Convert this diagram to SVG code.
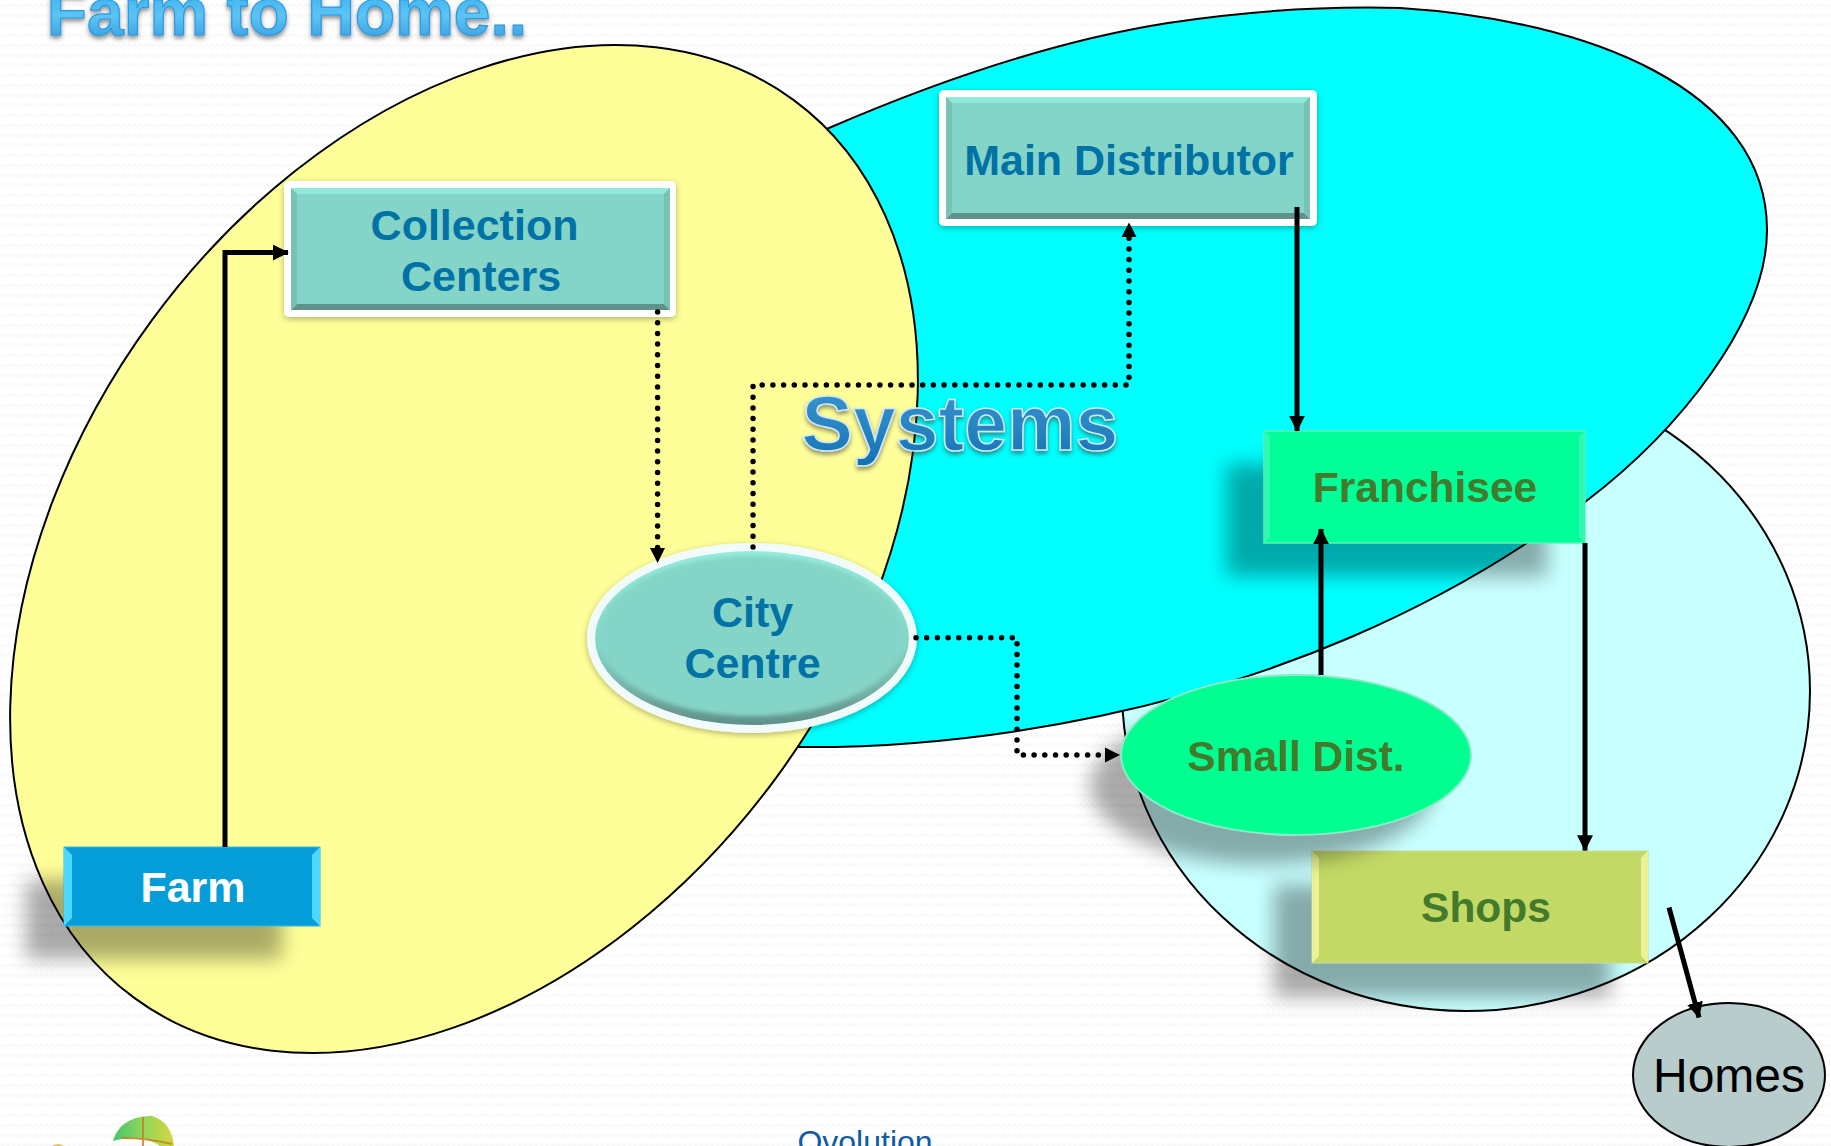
<svg xmlns="http://www.w3.org/2000/svg" width="1831" height="1146" viewBox="0 0 1831 1146">
<style>
text{font-family:"Liberation Sans",Arial,sans-serif;font-weight:700;text-anchor:middle}
.blob{stroke:#000;stroke-width:2}
.teal{fill:#0072a6;font-size:43px}
.green{fill:#437a2b;font-size:42.500px}
.wire{fill:none;stroke:#000;stroke-width:5}
.dot{fill:none;stroke:#000;stroke-width:5.500;stroke-linecap:round;stroke-dasharray:0 10.7}
.shadow{fill:#000;opacity:.33;filter:url(#blur)}
.hi{fill:#8fead9}.lo{fill:#5f9288}.sd{fill:#78c2b5}
</style>
<defs>
<pattern id="bg" width="11" height="10" patternUnits="userSpaceOnUse"><rect width="11" height="10" fill="#fff"/><path d="M0 7L2.750 4L5.500 7L8.250 4L11 7" fill="none" stroke="#f8f8f8" stroke-width="1.500"/></pattern>
<filter id="blur" x="-20%" y="-40%" width="140%" height="180%"><feGaussianBlur stdDeviation="10"/></filter>
<filter id="soft" x="-5%" y="-5%" width="110%" height="110%"><feGaussianBlur stdDeviation="2"/></filter>
<filter id="glow" x="-10%" y="-15%" width="120%" height="130%"><feDropShadow dx="0" dy="2" stdDeviation="3" flood-color="#000" flood-opacity=".3"/></filter>
<filter id="tshadow" x="-5%" y="-15%" width="110%" height="135%"><feDropShadow dx="0" dy="3" stdDeviation="2" flood-color="#3a3a3a" flood-opacity=".55"/></filter>
<linearGradient id="tg1" x1="0" y1="0" x2="0" y2="1"><stop offset="0" stop-color="#2aa4ec"/><stop offset=".55" stop-color="#5cc4f4"/><stop offset="1" stop-color="#2f93dc"/></linearGradient>
<linearGradient id="tg2" x1="0" y1="0" x2="0" y2="1"><stop offset="0" stop-color="#3c96d0"/><stop offset=".5" stop-color="#2a86c4"/><stop offset="1" stop-color="#1570b4"/></linearGradient>
<linearGradient id="ell" x1="0" y1="0" x2="0" y2="1"><stop offset="0" stop-color="#93ecdc"/><stop offset=".55" stop-color="#84d5c7"/><stop offset=".85" stop-color="#6fa99e"/><stop offset="1" stop-color="#5f8f88"/></linearGradient>
<linearGradient id="leaf" x1="0" y1="0" x2="1" y2="0"><stop offset="0" stop-color="#46c46c"/><stop offset=".5" stop-color="#8fd65a"/><stop offset="1" stop-color="#d8d640"/></linearGradient>
<marker id="a" viewBox="0 0 10 10" refX="9.500" refY="5" markerUnits="userSpaceOnUse" markerWidth="16" markerHeight="16" orient="auto"><path d="M0 0L10 5L0 10Z"/></marker>
</defs>
<rect id="background" width="1831" height="1146" fill="url(#bg)"/>
<g id="zone-retail"><ellipse class="blob" cx="1466" cy="691" rx="344" ry="320" fill="#c8ffff"/></g>
<g id="zone-distribution"><path class="blob" fill="#00ffff" d="M1400 8C1590 20 1767 90 1767 230C1767 320 1680 430 1585 502C1440 612 1270 680 1100 716C1000 737 900 748 797 747C740 747 700 600 700 450C700 300 740 170 829 128C940 80 1060 40 1168 23C1240 12 1320 6 1400 8Z"/></g>
<g id="zone-farm"><ellipse class="blob" cx="464" cy="549" rx="557" ry="387" transform="rotate(-53.7 464 549)" fill="#ffff99"/></g>

<g id="title"><text x="287" y="35" font-size="66" fill="url(#tg1)" stroke="#2b9be0" stroke-width="1.200" filter="url(#tshadow)">Farm to Home..</text></g>

<g id="node-collection-centers" filter="url(#glow)">
<rect x="287" y="184" width="386" height="130" rx="2" fill="#fff" stroke="#fff" stroke-width="6"/>
<rect x="291" y="188" width="379" height="122" fill="#84d5c7"/>
<path class="hi" d="M291 188H670L664 194H297Z"/><path class="lo" d="M291 310H670L664 304H297Z"/><path class="sd" d="M291 188L297 194V304L291 310Z"/><path class="sd" d="M670 188L664 194V304L670 310Z"/>
</g>
<text class="teal" x="474.500" y="240">Collection</text><text class="teal" x="481" y="291">Centers</text>

<g id="node-main-distributor" filter="url(#glow)">
<rect x="942" y="93" width="372" height="130" rx="2" fill="#fff" stroke="#fff" stroke-width="6"/>
<rect x="946" y="97" width="364" height="122" fill="#84d5c7"/>
<path class="hi" d="M946 97H1310L1304 103H952Z"/><path class="lo" d="M946 219H1310L1304 213H952Z"/><path class="sd" d="M946 97L952 103V213L946 219Z"/><path class="sd" d="M1310 97L1304 103V213L1310 219Z"/>
</g>
<text class="teal" x="1129" y="175">Main Distributor</text>

<g id="node-farm">
<rect class="shadow" x="26" y="880" width="256" height="79"/>
<rect x="64" y="847" width="256" height="79" fill="#059dd8" stroke="#36b8e6" stroke-width="1"/>
<path fill="#4dd9ff" d="M64 847L72 855V918L64 926Z"/><path fill="#4dd9ff" d="M320 847L312 855V918L320 926Z"/>
<text x="193" y="902" font-size="43" fill="#fff">Farm</text>
</g>

<g id="node-franchisee">
<rect class="shadow" x="1226" y="464" width="321" height="112"/>
<rect x="1264" y="431" width="321" height="112" fill="#00ff99" stroke="#5cf2bb" stroke-width="1.500"/>
<path fill="#33f8ad" d="M1264 431L1270 437V537L1264 543Z"/><path fill="#33f8ad" d="M1585 431L1579 437V537L1585 543Z"/>
<text class="green" x="1425" y="502">Franchisee</text>
</g>

<g id="node-shops">
<rect class="shadow" x="1274" y="885" width="336" height="112"/>
<rect x="1312" y="851" width="336" height="112" fill="#c2d965" stroke="#cfd9a0" stroke-width="1"/>
<path fill="#ecf294" d="M1312 851L1319 858V956L1312 963Z"/><path fill="#ecf294" d="M1648 851L1641 858V956L1648 963Z"/>
<text class="green" x="1486" y="922">Shops</text>
</g>

<g id="node-small-dist">
<ellipse class="shadow" cx="1262" cy="786" rx="172" ry="78"/>
<ellipse cx="1296" cy="755" rx="175" ry="80" fill="#00ff90" stroke="#8ee8cc" stroke-width="2"/>
<text class="green" x="1296" y="771">Small Dist.</text>
</g>

<g id="node-city-centre" filter="url(#glow)">
<ellipse cx="752" cy="638" rx="161" ry="91" fill="#fff" stroke="#f2fbfb" stroke-width="8"/>
<ellipse cx="752" cy="638" rx="157" ry="87" fill="url(#ell)"/>
<ellipse cx="752" cy="636" rx="153" ry="80" fill="#84d5c7" filter="url(#soft)"/>
</g>
<text class="teal" x="752.500" y="627">City</text><text class="teal" x="752.500" y="678">Centre</text>

<g id="node-homes"><ellipse cx="1729" cy="1075" rx="96" ry="72" fill="#b8cccb" stroke="#000" stroke-width="2"/><text x="1729" y="1092" font-size="48" style="font-weight:400" fill="#000">Homes</text></g>

<g id="connectors">
<path class="wire" d="M225 847V252.500H288" marker-end="url(#a)"/>
<path class="wire" d="M1297 207V431" marker-end="url(#a)"/>
<path class="wire" d="M1321 675V529" marker-end="url(#a)"/>
<path class="wire" d="M1585 543V850.500" marker-end="url(#a)"/>
<path class="wire" d="M1669 907.500L1699 1017.500" marker-end="url(#a)"/>
<path class="dot" d="M657.600 312V553"/><path d="M650 548H665L657.600 563Z"/>
<path class="dot" d="M753 547V385H1129V235"/><path d="M1121.500 237H1136.500L1129 222.500Z"/>
<path class="dot" d="M916 637.700H1017V755H1108"/><path d="M1105 747.500L1120 755L1105 762.500Z"/>
</g>

<g id="logo">
<path d="M113 1141C118 1124 132 1116 152 1116C166 1120 173 1132 174 1146H160C150 1138 130 1136 113 1141Z" fill="url(#leaf)"/>
<path d="M143 1117V1146M122 1138C135 1138 155 1140 172 1144" stroke="#c87a20" stroke-width="2" fill="none" opacity=".8"/>
<path d="M52 1146Q58 1142 64 1146Z" fill="#d9c46a"/>
</g>
<g id="footer"><text x="865" y="1153" font-size="32" style="font-weight:400" fill="#0f5ba5">Ovolution</text></g>
<g id="heading-systems"><text x="960" y="450" font-size="77" fill="url(#tg2)" stroke="#cfeaf5" stroke-width="1.500" filter="url(#tshadow)">Systems</text></g>
</svg>
